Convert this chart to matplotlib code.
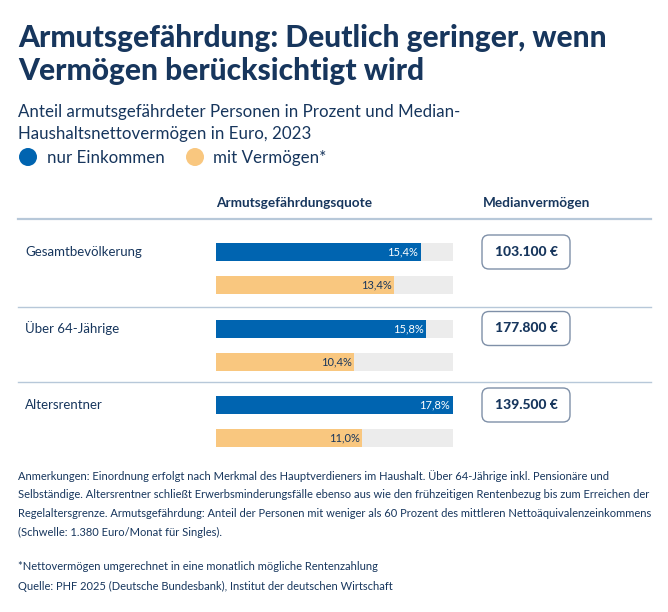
import matplotlib
matplotlib.use("Agg")
import matplotlib.pyplot as plt
from matplotlib.patches import FancyBboxPatch, Circle
from matplotlib.lines import Line2D

# ---- data ----
groups = ["Gesamtbevölkerung", "Über 64-Jährige", "Altersrentner"]
nur_einkommen = [15.4, 15.8, 17.8]
mit_vermoegen = [13.4, 10.4, 11.0]
medianvermoegen = ["103.100 €", "177.800 €", "139.500 €"]
series_names = ["nur Einkommen", "mit Vermögen*"]

title = "Armutsgefährdung: Deutlich geringer, wenn\nVermögen berücksichtigt wird"
subtitle = "Anteil armutsgefährdeter Personen in Prozent und Median-\nHaushaltsnettovermögen in Euro, 2023"
col_head_1 = "Armutsgefährdungsquote"
col_head_2 = "Medianvermögen"
notes = ("Anmerkungen: Einordnung erfolgt nach Merkmal des Hauptverdieners im Haushalt. Über 64-Jährige inkl. Pensionäre und\n"
         "Selbständige. Altersrentner schließt Erwerbsminderungsfälle ebenso aus wie den frühzeitigen Rentenbezug bis zum Erreichen der\n"
         "Regelaltersgrenze. Armutsgefährdung: Anteil der Personen mit weniger als 60 Prozent des mittleren Nettoäquivalenzeinkommens\n"
         "(Schwelle: 1.380 Euro/Monat für Singles).")
footnote = "*Nettovermögen umgerechnet in eine monatlich mögliche Rentenzahlung"
source = "Quelle: PHF 2025 (Deutsche Bundesbank), Institut der deutschen Wirtschaft"

# ---- style ----
NAVY = "#17365d"
BLUE = "#0064b0"
ORANGE = "#f9c77f"
TRACK = "#ececec"
SEP = "#b7c8d9"
BOX = "#7f90a8"
FONT = "Lato"

W, H = 668, 612
fig = plt.figure(figsize=(W / 100, H / 100), dpi=100)
fig.patch.set_facecolor("white")

bg = fig.add_axes([0, 0, 1, 1])
bg.set_xlim(0, W)
bg.set_ylim(H, 0)
bg.axis("off")

# title / subtitle
t_lines = title.split("\n")
bg.text(18, 47, t_lines[0], fontsize=21.5, fontweight=900, color=NAVY, family=FONT, va="baseline")
bg.text(18, 80, t_lines[1], fontsize=21.5, fontweight=900, color=NAVY, family=FONT, va="baseline")
sub_lines = subtitle.split("\n")
bg.text(18, 117, sub_lines[0], fontsize=12.2, color=NAVY, family=FONT, va="baseline")
bg.text(18, 139, sub_lines[1], fontsize=12.2, color=NAVY, family=FONT, va="baseline")

# legend
bg.add_patch(Circle((28, 157), 9, color=BLUE, lw=0))
bg.text(47, 163, series_names[0], fontsize=12.2, color=NAVY, family=FONT, va="baseline")
bg.add_patch(Circle((195, 157), 9, color=ORANGE, lw=0))
bg.text(213, 163, series_names[1], fontsize=12.2, color=NAVY, family=FONT, va="baseline")

# column headers
bg.text(216, 207, col_head_1, fontsize=9.8, fontweight="bold", color=NAVY, family=FONT, va="baseline")
bg.text(483, 207, col_head_2, fontsize=9.8, fontweight="bold", color=NAVY, family=FONT, va="baseline")

# separators
for y, lw in [(219, 1.6), (307, 1.0), (382, 1.0)]:
    bg.add_line(Line2D([18, 651], [y, y], color=SEP, lw=lw))

# ---- bar axes ----
row_px = 76.5          # pixel spacing between groups
top_px, bot_px = 230, 460
first_center_px = 252
ax = fig.add_axes([216 / W, (H - bot_px) / H, (453 - 216) / W, (bot_px - top_px) / H])
ax.set_xlim(0, max(nur_einkommen))
ax.set_ylim((bot_px - first_center_px) / row_px, (top_px - first_center_px) / row_px)
ax.axis("off")

bh = 18 / row_px
off = 33 / row_px
xmax = max(nur_einkommen)
for i, (v1, v2) in enumerate(zip(nur_einkommen, mit_vermoegen)):
    ax.barh(i, xmax, height=bh, color=TRACK, lw=0)
    ax.barh(i + off, xmax, height=bh, color=TRACK, lw=0)
    ax.barh(i, v1, height=bh, color=BLUE, lw=0)
    ax.barh(i + off, v2, height=bh, color=ORANGE, lw=0)
    ax.annotate(f"{v1:.1f}%".replace(".", ","), (v1, i), xytext=(-3, 0), textcoords="offset pixels",
                ha="right", va="center", fontsize=8, color="white", family=FONT)
    ax.annotate(f"{v2:.1f}%".replace(".", ","), (v2, i + off), xytext=(-3, 0), textcoords="offset pixels",
                ha="right", va="center", fontsize=8, color=NAVY, family=FONT)

    yc = first_center_px + i * row_px
    bg.text(25, yc, groups[i], fontsize=9.5, color=NAVY, family=FONT, va="center")
    bg.add_patch(FancyBboxPatch((482, yc - 17), 88, 34, boxstyle="round,pad=0,rounding_size=7",
                                fc="white", ec=BOX, lw=1.0))
    bg.text(526, yc, medianvermoegen[i], fontsize=10, fontweight=900, color=NAVY,
            family=FONT, ha="center", va="center")

# notes
note_lines = notes.split("\n")
for k, line in enumerate(note_lines):
    bg.text(18, 480 + k * 18.5, line, fontsize=8.0, color=NAVY, family=FONT, va="baseline")
bg.text(18, 570, footnote, fontsize=8.0, color=NAVY, family=FONT, va="baseline")
bg.text(18, 590, source, fontsize=8.0, color=NAVY, family=FONT, va="baseline")

fig.savefig("out.png", dpi=100, facecolor="white")
